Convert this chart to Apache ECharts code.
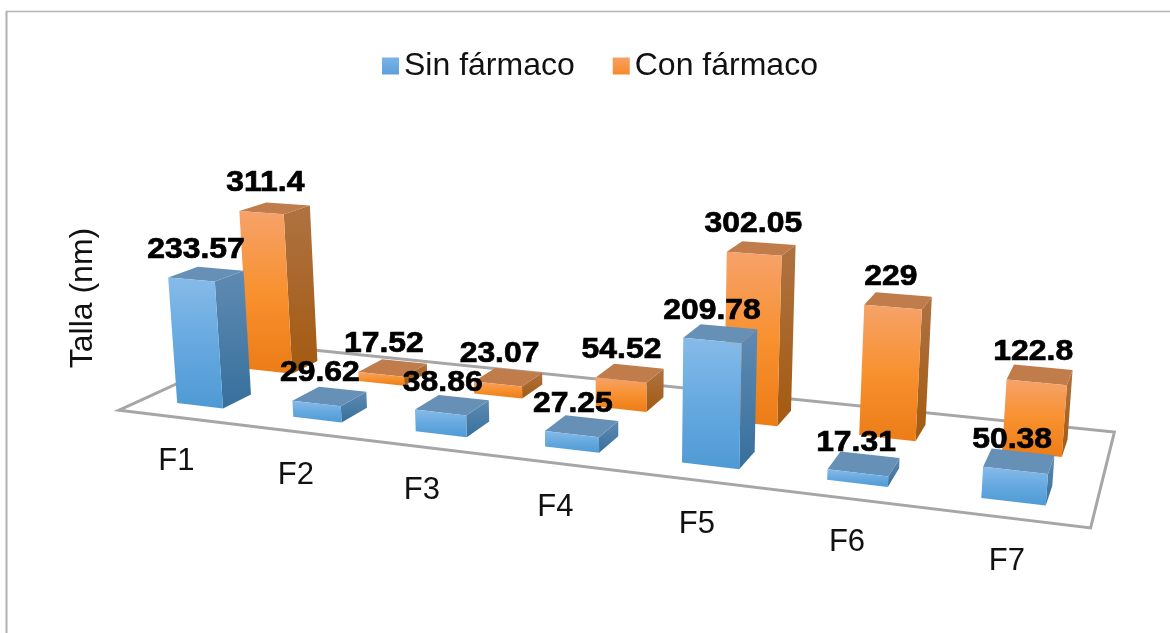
<!DOCTYPE html>
<html><head><meta charset="utf-8">
<style>html,body{margin:0;padding:0;background:#fff}#c{width:1170px;height:633px}</style>
<script src="https://cdn.jsdelivr.net/npm/echarts@6/dist/echarts.min.js"></script>
</head><body><div id="c"></div>
<script>
const categories = ['F1','F2','F3','F4','F5','F6','F7'];
const sinFarmaco = [233.57, 29.62, 38.86, 27.25, 209.78, 17.31, 50.38];
const conFarmaco = [311.4, 17.52, 23.07, 54.52, 302.05, 229, 122.8];
const seriesNames = ['Sin fármaco', 'Con fármaco'];
const yTitle = 'Talla (nm)';

const FONT = '"Liberation Sans", Arial, sans-serif';
const UNIT = 100;          // plot-plane pixels per category band
// perspective camera: (category position, depth, height) -> screen
const CAM = [109.9356, 181.0282, -0.05372407, 119.1412,
             2.859089, -15.45832, -0.5695363, 410.2073,
             -0.02644857, 0.1450684, -0.0000865597];
const BAR_U = 0.3012, BAR_W = 0.40097;
const DEPTH_SIN = [0.1515, 0.3456], DEPTH_CON = [0.6525, 0.8533];

function project(u, v, h) {
  const w = CAM[8]*u + CAM[9]*v + CAM[10]*h + 1;
  return [(CAM[0]*u + CAM[1]*v + CAM[2]*h + CAM[3]) / w,
          (CAM[4]*u + CAM[5]*v + CAM[6]*h + CAM[7]) / w];
}
const grad = stops => new echarts.graphic.LinearGradient(0, 0, 0, 1,
  stops.map((c, i) => ({offset: i / (stops.length - 1), color: c})));

const STYLE = {
  sin: {front: ['#86bbe9', '#66a9e0', '#4f9ad4'], top: '#6790b6', side: ['#5f8ab2', '#36709c'], legend: ['#7cb4e6', '#5aa0da']},
  con: {front: ['#f6a26a', '#f8912f', '#ec7c16'], top: '#c07c4a', side: ['#ae7242', '#a45a10'], legend: ['#f6a066', '#f78a28']}
};

function barRenderer(depth, st, order) {
  return function (params, api) {
    const base = api.coord([api.value(0), 0]);
    const top = api.coord([api.value(0), api.value(1)]);
    const u0 = (base[0] - UNIT / 2) / UNIT + BAR_U, u1 = u0 + BAR_W;
    const h = base[1] - top[1];
    const [v0, v1] = depth;
    const ftl = project(u0, v0, h), ftr = project(u1, v0, h), btr = project(u1, v1, h), btl = project(u0, v1, h);
    const fbl = project(u0, v0, 0), fbr = project(u1, v0, 0), bbr = project(u1, v1, 0);
    const mid = [(ftl[0] + ftr[0]) / 2, (ftl[1] + ftr[1]) / 2];
    return {type: 'group', children: [
      {type: 'polygon', z2: order, shape: {points: [ftr, btr, bbr, fbr]}, style: {fill: grad(st.side)}},
      {type: 'polygon', z2: order, shape: {points: [ftl, ftr, btr, btl]}, style: {fill: st.top}},
      {type: 'polygon', z2: order, shape: {points: [ftl, ftr, fbr, fbl]}, style: {fill: grad(st.front)}},
      {type: 'text', z2: 20, x: mid[0] + 6.3 - mid[0] * 0.0095, y: mid[1] - 30, scaleX: 1.1, scaleY: 1,
        style: {text: String(api.value(1)), x: 0, y: 0, align: 'center', verticalAlign: 'middle',
          font: 'bold 29px ' + FONT, fill: '#000', stroke: '#000', lineWidth: 0.7}}
    ]};
  };
}
function floorRenderer(params, api) {
  const base = api.coord([api.value(0), 0]);
  const u = (base[0] - UNIT / 2) / UNIT;
  const edge = project(u + 0.5, 0, 0);
  const kids = [{type: 'text', z2: 20, x: edge[0], y: edge[1] + 44,
    style: {text: categories[api.value(0)], x: 0, y: 0, align: 'center', verticalAlign: 'middle', font: '31px ' + FONT, fill: '#111'}}];
  if (api.value(0) === 0) {
    const n = categories.length;
    kids.push({type: 'polygon', z2: -5,
      shape: {points: [project(0, 0, 0), project(n, 0, 0), project(n, 1, 0), project(0, 1, 0)]},
      style: {fill: 'none', stroke: '#a6a6a6', lineWidth: 3}});
  }
  return {type: 'group', children: kids};
}

const chart = echarts.init(document.getElementById('c'), null, {renderer: 'canvas'});
chart.setOption({
  animation: false,
  backgroundColor: '#fff',
  grid: {left: 0, top: 0, width: UNIT * categories.length, height: 350},
  xAxis: {type: 'category', data: categories, show: false},
  yAxis: {type: 'value', min: 0, max: 350, show: false},
  legend: {
    left: 377, top: 45, itemWidth: 17, itemHeight: 17, itemGap: 38,
    textStyle: {fontFamily: FONT, fontSize: 32, color: '#111'},
    data: [
      {name: seriesNames[0], icon: 'rect', itemStyle: {color: grad(STYLE.sin.legend)}},
      {name: seriesNames[1], icon: 'rect', itemStyle: {color: grad(STYLE.con.legend)}}
    ]
  },
  graphic: [
    {type: 'line', shape: {x1: 6, y1: 11.5, x2: 1170, y2: 11.5}, style: {stroke: '#b4b4b4', lineWidth: 1.5}},
    {type: 'line', shape: {x1: 6.5, y1: 11, x2: 6.5, y2: 633}, style: {stroke: '#b0b0b0', lineWidth: 2}},
    {type: 'text', x: 83, y: 298, rotation: Math.PI / 2,
      style: {text: yTitle, align: 'center', verticalAlign: 'middle', font: '32px ' + FONT, fill: '#111'}}
  ],
  series: [
    {type: 'custom', name: 'floor', renderItem: floorRenderer, data: categories.map((c, i) => [i]), encode: {x: 0}, silent: true},
    {type: 'custom', name: seriesNames[1], renderItem: barRenderer(DEPTH_CON, STYLE.con, 1),
      data: conFarmaco.map((v, i) => [i, v]), encode: {x: 0, y: 1}, itemStyle: {color: '#f79646'}},
    {type: 'custom', name: seriesNames[0], renderItem: barRenderer(DEPTH_SIN, STYLE.sin, 2),
      data: sinFarmaco.map((v, i) => [i, v]), encode: {x: 0, y: 1}, itemStyle: {color: '#5b9bd5'}}
  ]
});
</script></body></html>
